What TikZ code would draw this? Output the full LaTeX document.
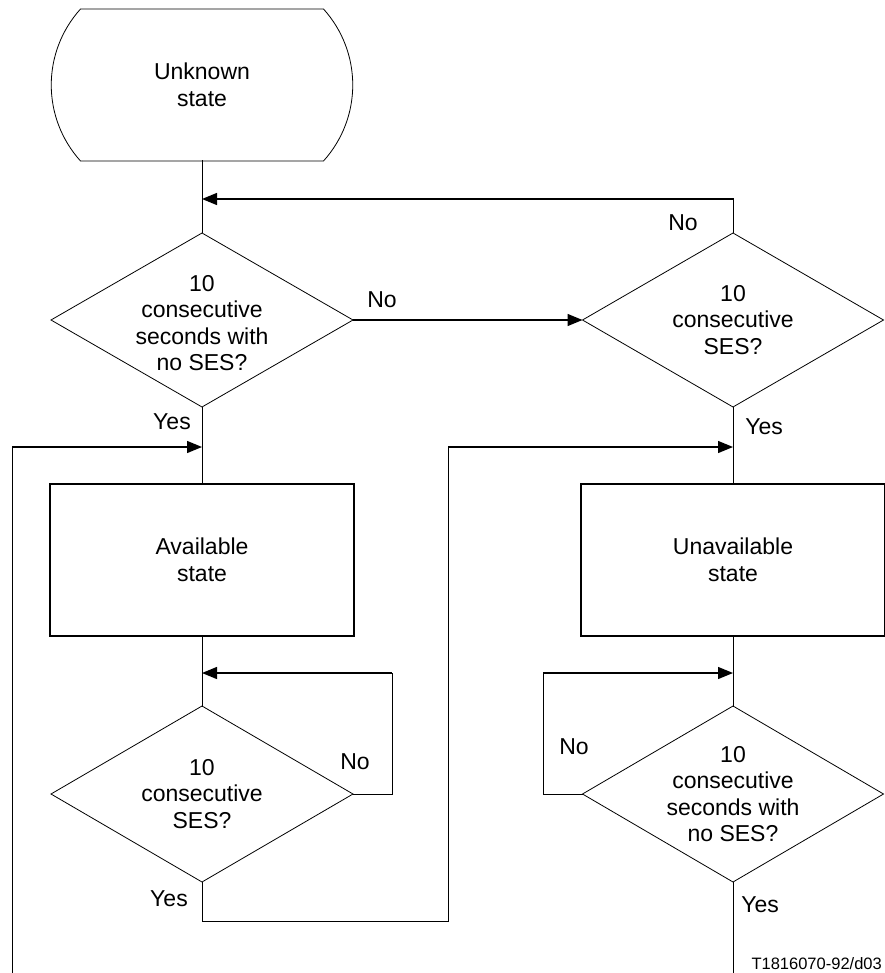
\documentclass[tikz,border=0pt]{standalone}
\usepackage{fontspec}
\setmainfont{Liberation Sans}
\usetikzlibrary{arrows.meta,shapes.geometric}
\begin{document}
\begin{tikzpicture}[x=1pt,y=-1pt,
  every node/.style={font=\fontsize{23}{26.5}\selectfont},
  line/.style={draw=black,line width=1pt,line cap=rect},
  arr/.style={draw=black,line width=1.3pt,-{Triangle[length=15pt,width=12pt]}},
  decision/.style={diamond,draw,line width=0.8pt,inner sep=0pt,outer sep=0pt,minimum width=302pt,minimum height=174pt},
  statebox/.style={rectangle,draw,line width=1.1pt,minimum width=304pt,minimum height=152pt,inner sep=0pt,outer sep=0pt,align=center},
  txt/.style={align=center,inner sep=0pt},
  lbl/.style={inner sep=0pt}]
\useasboundingbox (0,0) rectangle (884,973);

% terminator
\node[txt,minimum width=303pt,minimum height=152pt,outer sep=0pt] (start) at (202,85) {Unknown\\state};
\draw[line width=0.8pt] (80.5,9) -- (323.5,9) .. controls (362.5,52.3) and (362.5,117.7) .. (323.5,161)
  -- (80.5,161) .. controls (41.5,117.7) and (41.5,52.3) .. (80.5,9) -- cycle;

% decisions
\node[decision] (d1) at (202,320) {};
\node[txt] (d1t) at (202,323) {10\\consecutive\\seconds with\\no SES?};
\node[decision,minimum width=301pt] (rd1) at (733,320) {};
\node[txt] (rd1t) at (rd1) {10\\consecutive\\SES?};
\node[decision,minimum height=176pt] (d2) at (202,794) {};
\node[txt] (d2t) at (d2) {10\\consecutive\\SES?};
\node[decision,minimum width=301pt,minimum height=176pt] (rd2) at (733,794) {};
\node[txt] (rd2t) at (rd2) {10\\consecutive\\seconds with\\no SES?};

% state boxes
\node[statebox] (avail) at (202,560) {Available\\state};
\node[statebox] (unavail) at (733,560) {Unavailable\\state};

% junction and corner coordinates
\coordinate (j1) at (202,199);
\coordinate (c1) at (733,199);
\coordinate (j2) at (202,447);
\coordinate (c2) at (12,447);
\coordinate (e1) at (12,985);
\coordinate (j3) at (733,447);
\coordinate (c3) at (448,447);
\coordinate (c4) at (448,921);
\coordinate (c5) at (202,921);
\coordinate (j4) at (202,673);
\coordinate (c6) at (392,794);
\coordinate (c7) at (392,673);
\coordinate (j5) at (733,673);
\coordinate (c8) at (543,794);
\coordinate (c9) at (543,673);
\coordinate (e2) at (733,985);

% connectors
\draw[line] (start.south) -- (d1.north);
\draw[line] (rd1.north) -- (c1);
\draw[arr] (c1) -- (j1);
\draw[arr] (d1.east) -- (rd1.west);
\draw[line] (d1.south) -- (avail.north);
\draw[line] (e1) -- (c2);
\draw[arr] (c2) -- (j2);
\draw[line] (rd1.south) -- (unavail.north);
\draw[line] (d2.south) -- (c5) -- (c4) -- (c3);
\draw[arr] (c3) -- (j3);
\draw[line] (avail.south) -- (d2.north);
\draw[line] (d2.east) -- (c6) -- (c7);
\draw[arr] (c7) -- (j4);
\draw[line] (unavail.south) -- (rd2.north);
\draw[line] (rd2.west) -- (c8) -- (c9);
\draw[arr] (c9) -- (j5);
\draw[line] (rd2.south) -- (e2);

% labels
\node[lbl] (n1) at (382,300) {No};
\node[lbl] (n2) at (683,223) {No};
\node[lbl] (y1) at (172,422) {Yes};
\node[lbl] (y2) at (764,427) {Yes};
\node[lbl] (n3) at (355,762) {No};
\node[lbl] (y3) at (169,899) {Yes};
\node[lbl] (n4) at (574,747) {No};
\node[lbl] (y4) at (760,905) {Yes};
\node[anchor=base east,inner sep=0pt,font=\fontsize{16.5}{20}\selectfont] (fig) at (882,969) {T1816070-92/d03};
\end{tikzpicture}
\end{document}
